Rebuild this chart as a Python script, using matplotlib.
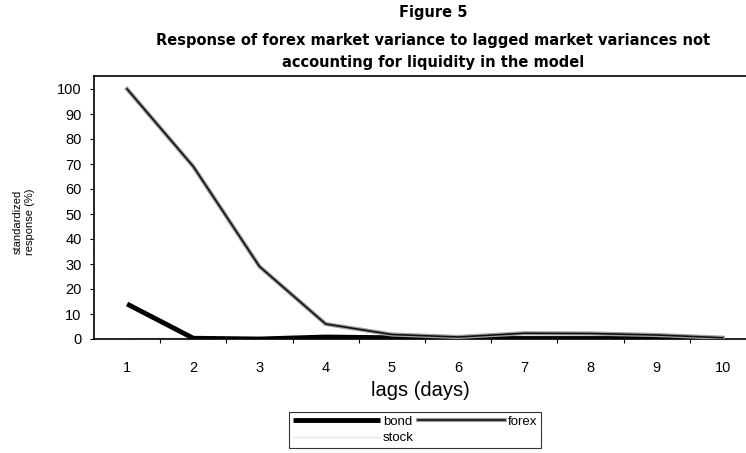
import matplotlib
matplotlib.use("Agg")
import matplotlib.pyplot as plt
import matplotlib.patheffects as pe
import numpy as np

plt.rcParams['font.family'] = ['Liberation Sans', 'DejaVu Sans']

lags = [1, 2, 3, 4, 5, 6, 7, 8, 9, 10]
forex = [100, 69, 29, 6, 1.8, 0.8, 2.3, 2.2, 1.6, 0.5]
bond = [14, 0.3, 0.0, 0.8, 0.5, 0.2, 0.2, 0.2, 0.2, 0.2]
stock = [0.2, 0.4, 0.3, 0.2, 0.1, 0.1, 0.1, 0.1, 0.1, 0.1]
yticks = list(range(0, 101, 10))

fig = plt.figure(figsize=(7.46, 4.53), dpi=100)
ax = fig.add_axes([94/746, (453-339)/453, 1 - 94/746, (339-76)/453])

l_bond, = ax.plot(lags, bond, color='black', lw=3.5, solid_capstyle='butt', label='bond', zorder=3)
l_stock, = ax.plot(lags, stock, color='#e6e6e6', lw=1.0, label='stock', zorder=2)
l_forex, = ax.plot(lags, forex, color='#111111', lw=1.2, label='forex', zorder=4,
                   path_effects=[pe.Stroke(linewidth=3.0, foreground='#a0a0a0'), pe.Normal()])

ax.set_xlim(0.5, 10.35)
ax.set_ylim(0, 105.2)
ax.set_yticks(yticks)
ax.set_yticklabels([str(v) for v in yticks], fontsize=10.5)
ax.set_xticks(lags)
ax.set_xticklabels([str(v) for v in lags], fontsize=10.5)
ax.set_xticks([x + 0.5 for x in lags[:-1]], minor=True)
ax.tick_params(axis='x', which='major', length=0, pad=16)
ax.tick_params(axis='x', which='minor', length=3, direction='out', width=0.8)
ax.tick_params(axis='y', length=3, width=0.8, pad=6)
for s in ['left', 'top', 'bottom']:
    ax.spines[s].set_linewidth(1.2)
ax.spines['right'].set_visible(False)

ax.set_xlabel('lags (days)', fontsize=14.5, labelpad=4)
fig.text(24/746, 1 - 222/453, 'standardized\nresponse (%)', rotation=90, fontsize=8,
         ha='center', va='center', linespacing=1.3)

tkw = dict(fontsize=10.5, fontweight='bold', ha='center', va='center', family='DejaVu Sans')
fig.text(433/746, 1 - 13/453, 'Figure 5', **tkw)
fig.text(433/746, 1 - 40/453,
         'Response of forex market variance to lagged market variances not', **tkw)
fig.text(433/746, 1 - 63/453, 'accounting for liquidity in the model', **tkw)

leg = fig.legend([l_bond, l_stock, l_forex], ['bond', 'stock', 'forex'], ncol=2,
                 loc='center', bbox_to_anchor=(415/746, 1 - 430/453), fontsize=9.5,
                 handlelength=6.6, handletextpad=0.2, columnspacing=0.3,
                 labelspacing=0.3, borderpad=0.3, fancybox=False, frameon=True)
leg.get_frame().set_edgecolor('black')
leg.get_frame().set_linewidth(0.8)

fig.savefig('out.png', dpi=100)
